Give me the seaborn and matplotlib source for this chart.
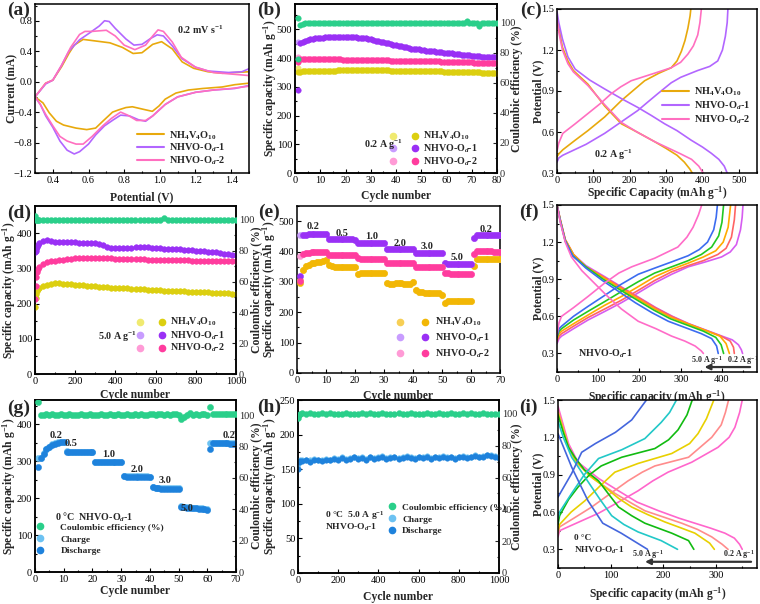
import matplotlib
matplotlib.use("Agg")
import matplotlib.pyplot as plt
import seaborn as sns
from matplotlib.lines import Line2D
from matplotlib.legend_handler import HandlerTuple
from matplotlib.ticker import MultipleLocator, AutoMinorLocator

# ======================= DATA =======================
# ---- (a) CV curves at 0.2 mV/s : potential (V), current (mA)
a_nh4_up_v = [0.3, 0.36, 0.4, 0.45, 0.49, 0.52, 0.57, 0.62, 0.72, 0.79, 0.85, 0.9, 0.96, 1.01, 1.07, 1.125, 1.19, 1.27, 1.35, 1.42, 1.5]
a_nh4_up_i = [-0.2, -0.02, 0.02, 0.2, 0.37, 0.48, 0.555, 0.54, 0.51, 0.45, 0.37, 0.38, 0.49, 0.525, 0.43, 0.26, 0.175, 0.13, 0.11, 0.12, 0.13]
a_nh4_dn_v = [1.5, 1.42, 1.35, 1.24, 1.16, 1.09, 1.03, 0.995, 0.958, 0.92, 0.883, 0.846, 0.81, 0.77, 0.735, 0.68, 0.64, 0.59, 0.53, 0.46, 0.42, 0.38, 0.345, 0.3]
a_nh4_dn_i = [-0.02, -0.04, -0.07, -0.09, -0.11, -0.15, -0.23, -0.32, -0.39, -0.37, -0.35, -0.33, -0.34, -0.37, -0.40, -0.52, -0.61, -0.63, -0.61, -0.57, -0.52, -0.41, -0.28, -0.2]
a_od1_up_v = [0.3, 0.36, 0.4, 0.446, 0.49, 0.55, 0.6, 0.66, 0.69, 0.716, 0.75, 0.81, 0.855, 0.9, 0.95, 0.985, 1.02, 1.07, 1.125, 1.2, 1.27, 1.385, 1.46, 1.5]
a_od1_up_i = [-0.2, -0.03, 0.02, 0.2, 0.4, 0.55, 0.63, 0.73, 0.8, 0.79, 0.7, 0.56, 0.48, 0.49, 0.57, 0.615, 0.6, 0.47, 0.3, 0.19, 0.14, 0.12, 0.13, 0.17]
a_od1_dn_v = [1.5, 1.42, 1.3, 1.2, 1.1, 1.03, 0.96, 0.92, 0.88, 0.83, 0.78, 0.74, 0.69, 0.64, 0.6, 0.55, 0.52, 0.48, 0.44, 0.4, 0.36, 0.33, 0.3]
a_od1_dn_i = [-0.05, -0.09, -0.11, -0.14, -0.2, -0.3, -0.45, -0.52, -0.5, -0.45, -0.44, -0.5, -0.58, -0.7, -0.82, -0.92, -0.95, -0.9, -0.78, -0.6, -0.45, -0.3, -0.2]
a_od2_up_v = [0.3, 0.36, 0.4, 0.45, 0.5, 0.55, 0.58, 0.62, 0.7, 0.75, 0.8, 0.86, 0.92, 0.96, 0.99, 1.02, 1.07, 1.12, 1.2, 1.3, 1.4, 1.5]
a_od2_up_i = [-0.2, -0.02, 0.02, 0.22, 0.45, 0.62, 0.66, 0.66, 0.675, 0.6, 0.48, 0.42, 0.48, 0.6, 0.68, 0.66, 0.52, 0.32, 0.19, 0.12, 0.1, 0.08]
a_od2_dn_v = [1.5, 1.4, 1.3, 1.2, 1.1, 1.03, 0.96, 0.92, 0.87, 0.82, 0.78, 0.73, 0.68, 0.62, 0.57, 0.53, 0.48, 0.44, 0.4, 0.36, 0.33, 0.3]
a_od2_dn_i = [-0.06, -0.09, -0.11, -0.14, -0.2, -0.3, -0.45, -0.51, -0.51, -0.44, -0.4, -0.48, -0.58, -0.72, -0.82, -0.82, -0.78, -0.72, -0.58, -0.43, -0.3, -0.2]

# ---- (b) cycling at 0.2 A/g, cycles 1..80 (discharge), first-cycle charge values
b_nh4 = [352, 353, 354, 354, 355, 355, 355, 355, 356, 356,
         356, 356, 356, 356, 356, 356, 357, 357, 357, 357,
         357, 357, 357, 357, 357, 357, 357, 357, 357, 357,
         357, 357, 357, 357, 357, 357, 357, 356, 356, 356,
         356, 356, 356, 356, 356, 356, 355, 355, 355, 355,
         355, 355, 355, 354, 354, 354, 354, 354, 353, 353,
         353, 353, 353, 352, 352, 352, 352, 351, 351, 351,
         351, 350, 350, 349, 348, 348, 347, 347, 347, 347]
b_od1 = [290, 451, 456, 460, 463, 465, 467, 468, 469, 470,
         471, 472, 472, 473, 473, 474, 474, 474, 474, 474,
         474, 473, 473, 472, 471, 470, 469, 468, 467, 465,
         463, 461, 459, 457, 455, 453, 451, 449, 447, 445,
         443, 441, 439, 437, 435, 433, 432, 431, 430, 429,
         427, 426, 425, 424, 423, 422, 421, 420, 419, 418,
         417, 416, 415, 414, 413, 412, 411, 410, 409, 408,
         407, 407, 406, 405, 404, 404, 403, 403, 402, 402]
b_od2 = [387, 396, 396, 396, 396, 396, 396, 395, 395, 395,
         395, 395, 395, 395, 395, 395, 395, 395, 394, 394,
         394, 394, 394, 394, 393, 393, 393, 393, 393, 393,
         393, 392, 392, 392, 392, 392, 392, 391, 391, 391,
         391, 391, 390, 390, 390, 390, 390, 389, 389, 389,
         389, 389, 388, 388, 388, 388, 388, 387, 387, 387,
         387, 386, 386, 386, 386, 385, 385, 385, 385, 385,
         384, 384, 384, 384, 384, 384, 384, 384, 384, 384]
b_first_charge = [364, 456, 402]   # NH4V4O10, NHVO-Od-1, NHVO-Od-2
b_ce = [103.0, 98.5, 99.5, 100.1, 99.9, 100.0, 100.1, 99.9, 100.0, 100.1,
        99.9, 100.0, 100.1, 100.0, 99.9, 100.1, 100.0, 99.9, 100.0, 100.1,
        100.0, 99.9, 100.1, 100.0, 100.0, 99.9, 100.1, 100.0, 99.9, 100.0,
        100.1, 100.0, 99.9, 100.0, 100.1, 100.0, 99.9, 100.1, 100.0, 100.0,
        99.9, 100.1, 100.0, 99.9, 100.0, 100.1, 100.0, 99.9, 100.0, 100.1,
        100.0, 99.9, 100.1, 100.0, 100.0, 99.9, 100.1, 100.0, 99.9, 100.0,
        100.1, 100.0, 99.9, 100.0, 100.1, 100.0, 99.9, 101.0, 100.0, 100.0,
        99.9, 100.1, 98.0, 100.0, 100.1, 100.0, 99.9, 100.0, 100.1, 100.0]
b_ce_extra = [76.0]   # second CE point at cycle 1

# ---- (c) GCD at 0.2 A/g : capacity (mAh/g), potential (V)
c_nh4_dis_q = [0, 5, 15, 30, 45, 85, 131, 177, 220, 268, 300, 330, 350, 365, 372]
c_nh4_dis_v = [1.45, 1.36, 1.22, 1.12, 1.05, 0.95, 0.79, 0.66, 0.6, 0.53, 0.48, 0.43, 0.38, 0.33, 0.3]
c_nh4_chg_q = [0, 5, 16, 50, 85, 131, 177, 241, 280, 314, 330, 342, 352, 360, 366, 368]
c_nh4_chg_v = [0.42, 0.44, 0.47, 0.54, 0.61, 0.71, 0.83, 0.975, 1.03, 1.07, 1.12, 1.19, 1.27, 1.36, 1.45, 1.5]
c_od1_dis_q = [0, 5, 15, 30, 50, 90, 131, 180, 222, 260, 296, 330, 369, 400, 424, 445, 460, 468]
c_od1_dis_v = [1.48, 1.4, 1.28, 1.15, 1.06, 0.98, 0.915, 0.84, 0.78, 0.72, 0.66, 0.61, 0.54, 0.49, 0.445, 0.4, 0.35, 0.3]
c_od1_chg_q = [0, 5, 16, 80, 131, 180, 222, 250, 277, 314, 340, 387, 420, 442, 455, 463, 468, 470]
c_od1_chg_v = [0.38, 0.41, 0.43, 0.51, 0.59, 0.68, 0.757, 0.82, 0.88, 0.96, 1.0, 1.05, 1.08, 1.12, 1.2, 1.3, 1.4, 1.5]
c_od2_dis_q = [0, 5, 15, 30, 45, 85, 131, 177, 220, 268, 300, 340, 370, 390, 402]
c_od2_dis_v = [1.42, 1.33, 1.2, 1.1, 1.04, 0.94, 0.8, 0.67, 0.6, 0.53, 0.49, 0.44, 0.4, 0.35, 0.3]
c_od2_chg_q = [0, 5, 16, 50, 85, 120, 149, 175, 204, 268, 314, 340, 360, 375, 387, 393, 397]
c_od2_chg_v = [0.46, 0.52, 0.59, 0.66, 0.735, 0.81, 0.88, 0.93, 0.975, 1.03, 1.07, 1.11, 1.17, 1.23, 1.31, 1.4, 1.5]

# ---- (d) long cycling at 5.0 A/g (sampled cycles)
d_cycles = [1, 3, 6, 10, 15] + list(range(20, 1001, 20))
d_nh4 = [190, 215, 228, 236, 242,
         245, 250, 254, 256, 257, 257, 256, 256, 255, 254,
         253, 252, 251, 250, 249, 248, 247, 246, 245, 244,
         244, 243, 243, 242, 241, 241, 240, 239, 239, 238,
         238, 237, 237, 236, 236, 235, 235, 234, 234, 233,
         233, 232, 232, 231, 230, 230, 229, 229, 228, 228]
d_od1 = [345, 350, 356, 362, 367,
         371, 378, 381, 377, 375, 374, 374, 374, 374, 374,
         373, 372, 371, 372, 372, 370, 366, 361, 358, 357,
         357, 357, 358, 359, 360, 362, 361, 360, 359, 358,
         357, 356, 355, 355, 355, 354, 353, 352, 351, 350,
         349, 348, 347, 346, 345, 344, 342, 341, 339, 338]
d_od2 = [212, 250, 275, 290, 298,
         303, 312, 318, 320, 321, 323, 325, 326, 327, 328,
         328, 329, 330, 330, 330, 329, 329, 328, 328, 327,
         327, 327, 327, 326, 326, 326, 326, 325, 325, 325,
         325, 324, 324, 324, 324, 323, 323, 323, 322, 322,
         322, 322, 321, 321, 321, 321, 320, 320, 320, 320]
d_ce = [102.8, 100.3, 100.1, 100.2, 100.0,
        100.1, 99.9, 100.2, 100.0, 100.1, 99.9, 100.0, 100.2, 100.1, 99.9,
        100.0, 100.1, 100.2, 99.9, 100.0, 100.1, 99.9, 100.2, 100.0, 100.1,
        99.9, 100.0, 100.1, 100.2, 99.9, 100.0, 100.1, 99.9, 100.2, 100.0,
        100.1, 101.2, 100.0, 99.9, 100.1, 100.0, 100.2, 99.9, 100.0, 100.1,
        99.9, 100.0, 100.1, 100.2, 99.9, 100.0, 100.1, 99.9, 100.0, 100.1]

# ---- (e) rate performance, cycles 1..70
e_rates = ["0.2", "0.5", "1.0", "2.0", "3.0", "5.0", "0.2"]
e_nh4 = [297, 338, 352, 357, 361, 363, 365, 367, 369, 371,
         355, 351, 350, 349, 349, 349, 349, 349, 349, 350,
         325, 329, 330, 330, 330, 330, 330, 329, 329, 328,
         297, 292, 293, 295, 296, 295, 294, 294, 294, 300,
         275, 268, 266, 265, 264, 263, 263, 262, 262, 257,
         232, 236, 237, 238, 238, 238, 238, 238, 238, 237,
         352, 377, 377, 377, 377, 377, 377, 377, 377, 377]
e_od1 = [319, 453, 456, 457, 458, 459, 459, 459, 459, 458,
         442, 440, 440, 440, 440, 440, 440, 440, 440, 439,
         429, 428, 428, 428, 428, 428, 428, 428, 428, 428,
         410, 409, 409, 409, 409, 409, 409, 409, 408, 408,
         395, 395, 395, 395, 395, 395, 395, 395, 395, 394,
         362, 359, 358, 358, 358, 358, 358, 358, 358, 358,
         445, 455, 455, 455, 455, 454, 454, 454, 453, 453]
e_od2 = [302, 392, 395, 396, 397, 398, 398, 399, 400, 400,
         390, 390, 390, 390, 390, 390, 390, 390, 390, 390,
         378, 377, 377, 377, 377, 377, 377, 377, 377, 377,
         363, 362, 362, 362, 362, 362, 362, 362, 362, 362,
         350, 349, 349, 349, 349, 349, 349, 349, 349, 350,
         330, 328, 327, 327, 327, 327, 327, 327, 327, 327,
         393, 402, 402, 402, 401, 401, 401, 400, 400, 400]
e_first_charge = [305, 454, 384]
e_label_cycle = [5.7, 15.5, 25.8, 35.6, 45.0, 55.1, 65.1]
e_label_cap = [482, 458, 450, 426, 415, 380, 472]

# ---- (f) NHVO-Od-1 GCD at different rates (A/g)
f_rates = ["0.2", "0.5", "1.0", "2.0", "3.0", "5.0"]
f_dis_q = [[0, 8, 20, 40, 70, 116, 160, 200, 240, 280, 320, 360, 400, 425, 440, 447, 450],
           [0, 8, 20, 40, 70, 115, 158, 198, 238, 278, 318, 358, 398, 420, 428, 430],
           [0, 8, 20, 40, 70, 114, 157, 197, 237, 277, 317, 357, 395, 410, 418],
           [0, 8, 20, 38, 70, 112, 155, 195, 235, 275, 315, 355, 385, 398, 404],
           [0, 8, 20, 38, 70, 110, 150, 190, 230, 270, 310, 350, 375, 387, 391],
           [0, 8, 20, 35, 60, 90, 120, 156, 197, 240, 278, 310, 335, 350, 355]]
f_dis_v = [[1.5, 1.38, 1.22, 1.1, 1.01, 0.92, 0.83, 0.75, 0.67, 0.6, 0.54, 0.49, 0.44, 0.41, 0.37, 0.33, 0.3],
           [1.5, 1.38, 1.22, 1.1, 1.0, 0.915, 0.83, 0.75, 0.67, 0.6, 0.54, 0.49, 0.44, 0.4, 0.35, 0.3],
           [1.5, 1.38, 1.22, 1.1, 1.0, 0.91, 0.82, 0.74, 0.66, 0.59, 0.54, 0.49, 0.44, 0.38, 0.3],
           [1.5, 1.37, 1.21, 1.09, 1.0, 0.9, 0.81, 0.73, 0.65, 0.58, 0.53, 0.48, 0.43, 0.37, 0.3],
           [1.5, 1.37, 1.21, 1.09, 0.99, 0.89, 0.8, 0.71, 0.63, 0.56, 0.51, 0.46, 0.42, 0.36, 0.3],
           [1.5, 1.36, 1.2, 1.08, 0.97, 0.87, 0.77, 0.66, 0.56, 0.5, 0.44, 0.4, 0.36, 0.32, 0.3]]
f_chg_q = [[0, 5, 11, 40, 75, 116, 156, 197, 237, 278, 318, 360, 399, 420, 435, 445, 449, 451],
           [0, 5, 11, 40, 75, 116, 156, 197, 237, 278, 318, 355, 390, 410, 423, 430, 433],
           [0, 5, 11, 40, 75, 116, 156, 197, 237, 278, 318, 355, 385, 403, 415, 421],
           [0, 5, 11, 40, 75, 116, 156, 197, 237, 278, 318, 350, 375, 392, 400, 404],
           [0, 5, 11, 40, 75, 116, 156, 197, 237, 278, 318, 345, 365, 380, 386, 389],
           [0, 5, 11, 40, 75, 116, 150, 181, 237, 293, 315, 330, 343, 351]]
f_chg_v = [[0.38, 0.42, 0.44, 0.5, 0.57, 0.64, 0.71, 0.79, 0.87, 0.94, 1.0, 1.04, 1.08, 1.12, 1.18, 1.3, 1.4, 1.5],
           [0.4, 0.44, 0.46, 0.52, 0.59, 0.66, 0.73, 0.81, 0.89, 0.96, 1.01, 1.05, 1.1, 1.15, 1.24, 1.38, 1.5],
           [0.42, 0.46, 0.48, 0.54, 0.61, 0.69, 0.76, 0.84, 0.92, 0.98, 1.03, 1.08, 1.13, 1.2, 1.32, 1.5],
           [0.43, 0.48, 0.5, 0.57, 0.64, 0.72, 0.8, 0.88, 0.95, 1.0, 1.05, 1.1, 1.16, 1.25, 1.36, 1.5],
           [0.44, 0.5, 0.52, 0.6, 0.68, 0.77, 0.86, 0.94, 0.99, 1.04, 1.09, 1.14, 1.2, 1.3, 1.4, 1.5],
           [0.45, 0.55, 0.6, 0.67, 0.76, 0.87, 0.95, 1.0, 1.07, 1.16, 1.24, 1.32, 1.42, 1.5]]

# ---- (g) 0 degC rate performance, cycles 1..70
g_dis = [285, 308, 321, 333, 339, 345, 348, 350, 351, 351,
         326, 325, 325, 325, 325, 325, 325, 325, 325, 324,
         298, 298, 298, 298, 297, 297, 297, 297, 297, 297,
         260, 258, 258, 258, 258, 258, 258, 258, 258, 257,
         229, 227, 227, 226, 226, 226, 226, 226, 226, 226,
         177, 175, 174, 174, 173, 173, 172, 172, 171, 169,
         332, 349, 349, 349, 349, 349, 349, 348, 348, 348]
g_chg = [308, 310, 322, 334, 340, 346, 349, 351, 352, 352,
         327, 326, 326, 326, 326, 326, 326, 326, 326, 325,
         299, 299, 299, 299, 298, 298, 298, 298, 298, 298,
         261, 259, 259, 259, 259, 259, 259, 259, 259, 258,
         230, 228, 228, 227, 227, 227, 227, 227, 227, 227,
         178, 176, 175, 175, 174, 174, 173, 173, 172, 170,
         349, 350, 350, 350, 350, 350, 350, 349, 349, 349]
g_ce = [108.5, 100.3, 100.1, 100.4, 100.2, 100.5, 100.3, 100.2, 100.4, 100.3,
        100.2, 100.4, 100.3, 100.1, 100.3, 100.5, 100.2, 100.3, 100.4, 100.2,
        100.3, 100.1, 100.4, 100.3, 100.2, 100.6, 100.3, 100.2, 100.4, 100.3,
        100.1, 100.5, 100.3, 100.2, 100.4, 100.3, 100.6, 100.2, 100.3, 100.8,
        100.4, 100.2, 100.6, 100.9, 100.3, 100.5, 100.2, 100.6, 100.7, 100.3,
        97.2, 99.0, 100.3, 101.5, 100.2, 100.4, 100.0, 100.6, 100.5, 100.3,
        105.3, 100.4, 100.5, 100.4, 100.4, 100.4, 100.4, 100.4, 100.4, 100.4]
g_label_cycle = [7.2, 12.4, 25.6, 35.7, 45.2, 53.1, 67.7]
g_label_cap = [371, 348, 319, 278, 247, 172, 371]

# ---- (h) 0 degC long cycling at 5.0 A/g (sampled cycles)
h_cycles = [1, 5, 10] + list(range(20, 1001, 20))
h_dis = [151, 160, 162,
         162, 163, 161, 164, 163, 162, 164, 163, 165, 164,
         166, 164, 165, 167, 165, 166, 164, 167, 165, 166,
         168, 165, 166, 167, 165, 166, 168, 166, 165, 167,
         166, 168, 165, 167, 166, 168, 166, 167, 165, 167,
         168, 166, 167, 169, 167, 168, 170, 169, 168, 166]
h_chg = [158, 162, 163,
         163, 164, 163, 165, 164, 163, 165, 164, 166, 165,
         167, 165, 166, 168, 166, 167, 165, 168, 166, 167,
         169, 166, 167, 168, 166, 167, 169, 167, 166, 168,
         167, 169, 166, 168, 167, 169, 167, 168, 166, 168,
         169, 167, 168, 170, 168, 169, 171, 170, 169, 167]
h_ce = [97.5, 99.6, 100.2,
        100.4, 99.8, 100.5, 100.1, 99.7, 100.4, 100.0, 100.5, 99.8, 100.3,
        100.1, 100.6, 99.7, 100.3, 100.0, 100.5, 99.8, 100.4, 100.1, 99.7,
        100.5, 100.0, 100.3, 99.8, 100.6, 100.1, 99.9, 100.4, 100.2, 99.7,
        100.3, 100.5, 99.9, 100.2, 100.6, 99.8, 100.1, 100.4, 100.0, 99.7,
        100.4, 100.1, 100.5, 99.8, 100.2, 100.4, 100.0, 100.3, 99.9, 100.2]

# ---- (i) 0 degC NHVO-Od-1 GCD at different rates
i_rates = ["0.2", "0.5", "1.0", "2.0", "3.0", "5.0"]
i_dis_q = [[0, 10, 20, 38, 77, 115, 150, 191, 230, 260, 290, 317, 335, 345, 350],
           [0, 10, 20, 34, 70, 108, 140, 165, 200, 235, 265, 292, 312, 323],
           [0, 10, 20, 32, 60, 89, 115, 140, 170, 203, 235, 260, 288, 297],
           [0, 10, 20, 32, 50, 77, 95, 115, 140, 165, 216, 248, 258],
           [0, 10, 26, 45, 64, 80, 102, 125, 152, 196, 227],
           [0, 26, 57, 85, 120, 170]]
i_dis_v = [[1.45, 1.3, 1.15, 1.0, 0.87, 0.77, 0.68, 0.61, 0.55, 0.51, 0.47, 0.43, 0.39, 0.34, 0.3],
           [1.42, 1.28, 1.13, 1.0, 0.86, 0.75, 0.67, 0.61, 0.56, 0.51, 0.46, 0.4, 0.34, 0.3],
           [1.4, 1.26, 1.12, 1.02, 0.89, 0.8, 0.71, 0.64, 0.58, 0.52, 0.47, 0.43, 0.35, 0.3],
           [1.38, 1.24, 1.12, 1.04, 0.94, 0.85, 0.75, 0.64, 0.57, 0.51, 0.43, 0.37, 0.3],
           [1.33, 1.2, 1.04, 0.92, 0.8, 0.7, 0.57, 0.5, 0.44, 0.37, 0.3],
           [1.23, 0.96, 0.69, 0.51, 0.43, 0.3]]
i_chg_q = [[0, 3, 40, 77, 115, 152, 180, 209, 254, 304, 325, 336, 345, 350],
           [0, 3, 30, 64, 100, 133, 160, 184, 248, 292, 310, 318, 324],
           [0, 3, 25, 51, 80, 108, 152, 216, 250, 266, 282, 296],
           [0, 3, 20, 38, 60, 82, 121, 184, 210, 228, 245, 255],
           [0, 3, 26, 50, 77, 121, 165, 196, 212, 225],
           [0, 26, 45, 71, 109, 140, 168]]
i_chg_v = [[0.4, 0.45, 0.52, 0.59, 0.68, 0.77, 0.85, 0.92, 1.0, 1.12, 1.2, 1.28, 1.4, 1.5],
           [0.42, 0.48, 0.55, 0.64, 0.75, 0.85, 0.92, 0.97, 1.04, 1.2, 1.3, 1.4, 1.5],
           [0.45, 0.5, 0.6, 0.69, 0.81, 0.92, 0.99, 1.07, 1.15, 1.23, 1.35, 1.5],
           [0.5, 0.57, 0.7, 0.8, 0.9, 0.97, 1.04, 1.11, 1.18, 1.26, 1.38, 1.5],
           [0.55, 0.6, 0.75, 0.9, 1.03, 1.1, 1.19, 1.32, 1.4, 1.5],
           [0.72, 0.91, 1.08, 1.15, 1.24, 1.34, 1.5]]

# ======================= STYLE =======================
sns.set_style("ticks")
plt.rcParams.update({
    "font.family": ["Liberation Serif", "DejaVu Serif"],
    "mathtext.fontset": "custom",
    "mathtext.rm": "Liberation Serif:bold",
    "mathtext.it": "Liberation Serif:italic:bold",
    "mathtext.bf": "Liberation Serif:bold",
    "axes.linewidth": 1.1,
    "axes.edgecolor": "black",
})

W, H = 760, 604
TICK = 7.5
LAB = 8.4
fig = plt.figure(figsize=(7.6, 6.04), dpi=100)

def fx(x):
    return x / W

def fy(y):
    return 1 - y / H

def make_ax(l, t, r, b):
    return fig.add_axes([l / W, 1 - b / H, (r - l) / W, (b - t) / H])

def style(ax, xlim, ylim, xmaj, ymaj, box, xlab=None, ylab=None, xlab_top=None, ylab_x=None):
    ax.set_xlim(*xlim)
    ax.set_ylim(*ylim)
    ax.xaxis.set_major_locator(MultipleLocator(xmaj))
    ax.yaxis.set_major_locator(MultipleLocator(ymaj))
    ax.xaxis.set_minor_locator(AutoMinorLocator(2))
    ax.yaxis.set_minor_locator(AutoMinorLocator(2))
    ax.tick_params(which="both", direction="in", labelsize=TICK, pad=2, width=0.8, colors="black")
    ax.tick_params(which="major", length=3)
    ax.tick_params(which="minor", length=1.6)
    for s in ax.spines.values():
        s.set_visible(True)
        s.set_linewidth(1.1)
        s.set_color("black")
    l, t, r, b = box
    if xlab:
        ax.set_xlabel(xlab, fontsize=LAB, fontweight="bold")
        ax.xaxis.set_label_coords(0.5, (b - xlab_top) / (b - t))
    if ylab:
        ax.set_ylabel(ylab, fontsize=LAB, fontweight="bold")
        ax.yaxis.set_label_coords((ylab_x + 7 - l) / (r - l), 0.5)

def right_axis(ax, ylim, box, lab_x):
    ax2 = ax.twinx()
    ax2.set_ylim(*ylim)
    ax2.yaxis.set_major_locator(MultipleLocator(20))
    ax2.yaxis.set_minor_locator(AutoMinorLocator(2))
    ax2.tick_params(which="both", direction="in", labelsize=TICK, pad=2, width=0.8)
    ax2.tick_params(which="major", length=3)
    ax2.tick_params(which="minor", length=1.6)
    l, t, r, b = box
    ax2.set_ylabel("Coulombic efficiency (%)", fontsize=LAB, fontweight="bold")
    ax2.yaxis.set_label_coords((lab_x - 6 - l) / (r - l), 0.5)
    return ax2

def dots(ax, x, y, color, s=16, ec=None, z=3):
    sns.scatterplot(x=x, y=y, ax=ax, color=color, s=s, edgecolor=ec or color,
                    linewidth=0.3, legend=False, zorder=z)

def curve(ax, x, y, color, lw=1.2):
    sns.lineplot(x=x, y=y, ax=ax, color=color, lw=lw, sort=False, estimator=None, legend=False)

def dot_handle(c):
    return Line2D([], [], marker="o", ls="", markerfacecolor=c, markeredgecolor=c, markersize=4.5)

def place_legend(ax, handles, labels, x, y, spacing=0.25, hl=2.0, htp=0.5, tuple_=False, size=7.2):
    kw = {}
    if tuple_:
        kw["handler_map"] = {tuple: HandlerTuple(ndivide=None, pad=1.6)}
    ax.legend(handles, labels, loc="upper left", bbox_to_anchor=(fx(x), fy(y)),
              bbox_transform=fig.transFigure, frameon=False, borderpad=0, borderaxespad=0,
              labelspacing=spacing, handlelength=hl, handletextpad=htp,
              prop={"weight": "bold", "size": size}, **kw)

def ftext(x, y, s, size=7.2, ha="center", va="center"):
    fig.text(fx(x), fy(y), s, fontsize=size, fontweight="bold", ha=ha, va=va)

labels3 = ["NH$_4$V$_4$O$_{10}$", "NHVO-O$_d$-1", "NHVO-O$_d$-2"]
GREEN = "#2ACF8A"
YEL_D, YEL_L = "#DCCF10", "#F0EA70"
PUR_D, PUR_L = "#9A30F5", "#C89CFF"
PNK_D, PNK_L = "#FF3C9E", "#FF9BD6"
ORG_D, ORG_L = "#F2B705", "#F7CF55"
BLU_D, BLU_L = "#1E82DC", "#6CC2F2"

# ======================= (a) =======================
box = (35, 4, 249, 173)
ax = make_ax(*box)
cols_a = ["#E8A90C", "#B266FF", "#FF6FC0"]
for uv, ui, dv, di, c in [(a_nh4_up_v, a_nh4_up_i, a_nh4_dn_v, a_nh4_dn_i, cols_a[0]),
                          (a_od1_up_v, a_od1_up_i, a_od1_dn_v, a_od1_dn_i, cols_a[1]),
                          (a_od2_up_v, a_od2_up_i, a_od2_dn_v, a_od2_dn_i, cols_a[2])]:
    curve(ax, uv + dv, ui + di, c)
style(ax, (0.3, 1.5), (-1.2, 1.02), 0.2, 0.4, box, "Potential (V)", "Current (mA)", 191, 11)
place_legend(ax, [Line2D([], [], color=c, lw=1.5) for c in cols_a], labels3, 137, 129, spacing=0.02, hl=2.6, size=7.4)
ftext(200, 30, "0.2 mV s$^{-1}$")

# ======================= (b) =======================
box = (295, 4, 497, 173)
ax = make_ax(*box)
cyc80 = list(range(1, 81))
ax2 = right_axis(ax, (0, 112.6), box, 517)
dots(ax2, cyc80, b_ce, GREEN)
dots(ax2, [1], b_ce_extra, GREEN)
for vals, fc, cl, cd in [(b_nh4, b_first_charge[0], YEL_L, YEL_D),
                         (b_od1, b_first_charge[1], PUR_L, PUR_D),
                         (b_od2, b_first_charge[2], PNK_L, PNK_D)]:
    dots(ax, cyc80, [fc] + vals[1:], cl)
    dots(ax, cyc80, vals, cd)
style(ax, (0, 80), (0, 588), 10, 100, box, "Cycle number", "Specific capacity (mAh g$^{-1}$)", 190, 272)
place_legend(ax2, [(dot_handle(YEL_L), dot_handle(YEL_D)), (dot_handle(PUR_L), dot_handle(PUR_D)),
                   (dot_handle(PNK_L), dot_handle(PNK_D))], labels3, 390, 130, spacing=0.0, hl=2.8, tuple_=True)
ftext(383, 145, "0.2 A g$^{-1}$")

# ======================= (c) =======================
box = (557, 9, 757, 173)
ax = make_ax(*box)
for dq, dv, cq, cv, c in [(c_nh4_dis_q, c_nh4_dis_v, c_nh4_chg_q, c_nh4_chg_v, cols_a[0]),
                          (c_od1_dis_q, c_od1_dis_v, c_od1_chg_q, c_od1_chg_v, cols_a[1]),
                          (c_od2_dis_q, c_od2_dis_v, c_od2_chg_q, c_od2_chg_v, cols_a[2])]:
    curve(ax, dq, dv, c)
    curve(ax, cq, cv, c)
style(ax, (0, 550), (0.3, 1.5), 100, 0.3, box, "Specific Capacity (mAh g$^{-1}$)", "Potential (V)", 184, 537)
place_legend(ax, [Line2D([], [], color=c, lw=1.5) for c in cols_a], labels3, 662, 86, spacing=0.12, hl=2.6, size=7.4)
ftext(613, 155, "0.2 A g$^{-1}$")

# ======================= (d) =======================
box = (35, 206, 236, 374)
ax = make_ax(*box)
ax2 = right_axis(ax, (0, 109), box, 257)
dots(ax2, d_cycles, d_ce, GREEN, s=18)
for vals, cl, cd in [(d_nh4, YEL_L, YEL_D), (d_od1, PUR_L, PUR_D), (d_od2, PNK_L, PNK_D)]:
    dots(ax, d_cycles, vals, cl, s=16)
    dots(ax, d_cycles, vals, cd, s=16)
style(ax, (0, 1000), (0, 477), 200, 100, box, "Cycle number", "Specific capacity (mAh g$^{-1}$)", 389, 11)
place_legend(ax2, [(dot_handle(YEL_L), dot_handle(YEL_D)), (dot_handle(PUR_L), dot_handle(PUR_D)),
                   (dot_handle(PNK_L), dot_handle(PNK_D))], labels3, 137, 316, spacing=0.05, hl=2.8, tuple_=True)
ftext(117, 337, "5.0 A g$^{-1}$")

# ======================= (e) =======================
box = (297, 206, 500, 373)
ax = make_ax(*box)
cyc70 = list(range(1, 71))
for vals, fc, cl, cd in [(e_nh4, e_first_charge[0], ORG_L, ORG_D),
                         (e_od1, e_first_charge[1], PUR_L, PUR_D),
                         (e_od2, e_first_charge[2], PNK_L, PNK_D)]:
    dots(ax, cyc70, [fc] + vals[1:], cl, s=20)
    dots(ax, cyc70, vals, cd, s=20)
for xc, yc, t in zip(e_label_cycle, e_label_cap, e_rates):
    ax.text(xc, yc, t, fontsize=7.5, fontweight="bold", ha="center", va="center")
style(ax, (0, 70), (0, 550), 10, 100, box, "Cycle number", "Specific capacity (mAh g$^{-1}$)", 390, 271)
place_legend(ax, [(dot_handle(ORG_L), dot_handle(ORG_D)), (dot_handle(PUR_L), dot_handle(PUR_D)),
                 (dot_handle(PNK_L), dot_handle(PNK_D))], labels3, 396, 316, spacing=0.3, hl=3.4, tuple_=True)

# ======================= (f) =======================
box = (557, 205, 757, 372)
ax = make_ax(*box)
cols_f = ["#D65CF0", "#FF6464", "#FFAA00", "#22C822", "#3C6CF0", "#FF6CC8"]
for k in range(len(f_rates)):
    curve(ax, f_dis_q[k], f_dis_v[k], cols_f[k])
    curve(ax, f_chg_q[k], f_chg_v[k], cols_f[k])
style(ax, (0, 485), (0.15, 1.5), 100, 0.3, box, "Specific capacity (mAh g$^{-1}$)", "Potential (V)", 388, 537)
ax.annotate("", xy=(351, 0.19), xytext=(475, 0.19),
            arrowprops=dict(arrowstyle="-|>", color="#333333", lw=1.6, mutation_scale=8))
ax.text(363, 0.24, "5.0 A g$^{-1}$", fontsize=5.8, fontweight="bold", ha="center", va="center")
ax.text(450, 0.24, "0.2 A g$^{-1}$", fontsize=5.8, fontweight="bold", ha="center", va="center")
ax.text(50, 0.3, "NHVO-O$_d$-1", fontsize=7.2, fontweight="bold", ha="left", va="center")

# ======================= (g) =======================
box = (35, 400, 236, 572)
ax = make_ax(*box)
ax2 = right_axis(ax, (0, 109.6), box, 257)
dots(ax2, cyc70, g_ce, GREEN, s=20)
dots(ax, cyc70, g_chg, BLU_L, s=20)
dots(ax, cyc70, g_dis, BLU_D, s=20)
for xc, yc, t in zip(g_label_cycle, g_label_cap, e_rates):
    ax.text(xc, yc, t, fontsize=7.5, fontweight="bold", ha="center", va="center")
style(ax, (0, 70), (0, 466), 10, 100, box, "Cycle number", "Specific capacity (mAh g$^{-1}$)", 585, 11)
ftext(55, 517, "0 °C  NHVO-O$_d$-1", ha="left")
place_legend(ax2, [dot_handle(GREEN), dot_handle(BLU_L), dot_handle(BLU_D)],
             ["Coulombic efficiency (%)", "Charge", "Discharge"], 34, 523, spacing=0.35, hl=1.2, htp=1.6, size=6.8)

# ======================= (h) =======================
box = (298, 400, 499, 573)
ax = make_ax(*box)
ax2 = right_axis(ax, (0, 108.8), box, 517)
dots(ax2, h_cycles, h_ce, GREEN, s=18)
dots(ax, h_cycles, h_chg, BLU_L, s=16)
dots(ax, h_cycles, h_dis, BLU_D, s=16)
style(ax, (0, 1000), (0, 250), 200, 50, box, "Cycle number", "Specific capacity (mAh g$^{-1}$)", 591, 272)
ftext(325, 515, "0 °C  5.0 A g$^{-1}$", ha="left", size=6.8)
ftext(325, 527, "NHVO-O$_d$-1", ha="left", size=6.8)
place_legend(ax2, [dot_handle(GREEN), dot_handle(BLU_L), dot_handle(BLU_D)],
             ["Coulombic efficiency (%)", "Charge", "Discharge"], 387, 503, spacing=0.35, hl=1.0, htp=0.6, size=6.8)

# ======================= (i) =======================
box = (558, 400, 757, 568)
ax = make_ax(*box)
cols_i = ["#FF66CC", "#FF8C8C", "#E8D000", "#11BB11", "#22C8C8", "#4466DD"]
for k in range(len(i_rates)):
    curve(ax, i_dis_q[k], i_dis_v[k], cols_i[k])
    curve(ax, i_chg_q[k], i_chg_v[k], cols_i[k])
style(ax, (0, 378), (0.15, 1.5), 100, 0.3, box, "Specific capacity (mAh g$^{-1}$)", "Potential (V)", 585, 537)
ax.annotate("", xy=(160, 0.2), xytext=(372, 0.2),
            arrowprops=dict(arrowstyle="-|>", color="#333333", lw=1.6, mutation_scale=8))
ax.text(170, 0.255, "5.0 A g$^{-1}$", fontsize=5.8, fontweight="bold", ha="center", va="center")
ax.text(343, 0.255, "0.2 A g$^{-1}$", fontsize=5.8, fontweight="bold", ha="center", va="center")
ax.text(30, 0.39, "0 °C", fontsize=6.6, fontweight="bold", ha="left", va="center")
ax.text(30, 0.29, "NHVO-O$_d$-1", fontsize=6.6, fontweight="bold", ha="left", va="center")

# ======================= panel letters =======================
for lab, x, y in [("(a)", 19, 10), ("(b)", 269, 10), ("(c)", 531, 10),
                  ("(d)", 19, 213), ("(e)", 269, 212), ("(f)", 529, 212),
                  ("(g)", 19, 408), ("(h)", 269, 407), ("(i)", 528, 407)]:
    ftext(x, y, lab, size=14)

fig.savefig("out.png", dpi=100)
